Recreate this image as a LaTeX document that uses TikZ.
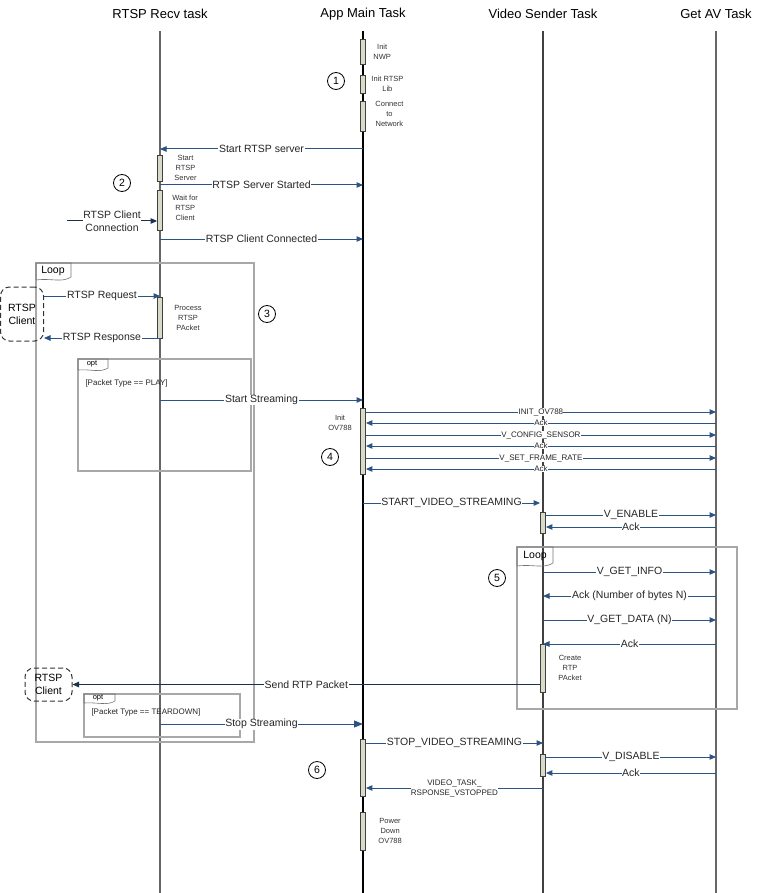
\documentclass[tikz,border=0pt]{standalone}
\usepackage{fontspec}
\setmainfont{Liberation Sans}
\usepackage{xcolor}
\usepackage{tikz}
\usetikzlibrary{positioning, arrows.meta, shapes}
\definecolor{msgblue}{HTML}{2B5383}
\definecolor{actfill}{HTML}{DADAC8}
\definecolor{framegray}{HTML}{A8A8A8}

\begin{document}
\begin{tikzpicture}[x=1pt, y=-1pt,
    title/.style={font=\fontsize{13}{15}\selectfont},
    lifeline/.style={line width=1.1pt},
    actbox/.style={draw=black!75, fill=actfill, line width=0.8pt, minimum width=5pt, inner sep=0pt},
    note/.style={font=\fontsize{7.5}{10}\selectfont, align=center, text=black!80},
    msg/.style={msgblue, line width=1pt, -{Triangle[length=6.5pt,width=5.5pt]}},
    lbl/.style={fill=white, inner sep=0.6pt, text=black!85, font=\fontsize{10.5}{12}\selectfont},
    slbl/.style={fill=white, inner sep=0.3pt, text=black!85, font=\fontsize{8}{9}\selectfont},
    stepnum/.style={circle, draw, line width=0.8pt, minimum size=17pt, inner sep=0pt, font=\fontsize{10.5}{12}\selectfont},
    frame/.style={draw=framegray, line width=1.2pt},
    tab/.style={draw=black!55, line width=0.6pt},
    client/.style={draw=black!80, dashed, dash pattern=on 5pt off 3pt, rounded corners=9pt, line width=1pt, align=center, inner sep=0pt, font=\fontsize{10.5}{13}\selectfont}
]
    \useasboundingbox (0,0) rectangle (757,893);

    % Tasks
    \node[title] (rtsp) at (160,14) {RTSP Recv task};
    \node[title] (app) at (363,14) {App Main Task};
    \node[title] (vid) at (543,14) {Video Sender Task};
    \node[title] (getav) at (716,14) {Get AV Task};

    % Lifelines
    \draw[lifeline, black!60] (rtsp |- 0,31) -- (rtsp |- 0,893);
    \draw[lifeline, black] (app |- 0,31) -- (app |- 0,893);
    \draw[lifeline, black!75] (vid |- 0,31) -- (vid |- 0,893);
    \draw[lifeline, black!60] (getav |- 0,31) -- (getav |- 0,893);

    % Frames
    \draw[frame] (36,263) rectangle (254,742);
    \draw[tab] (36,280) -- (36,263) -- (71,263) -- (71,277) .. controls (62,283) and (52,278) .. (36,280);
    \node[font=\fontsize{10.5}{12}\selectfont] (loopA) at (53,271) {Loop};
    \draw[frame] (78,359) rectangle (251,471);
    \draw[tab] (78,370) -- (78,359) -- (108,359) -- (108,368) .. controls (100,373) and (92,369) .. (78,370);
    \node[font=\fontsize{7.5}{8}\selectfont] (optA) at (92,364) {opt};
    \node[slbl, fill=none, anchor=west] (guardA) at (85,383) {[Packet Type == PLAY]};
    \draw[frame] (517,547) rectangle (737,709);
    \draw[tab] (517,566) -- (517,547) -- (553,547) -- (553,563) .. controls (544,569) and (534,564) .. (517,566);
    \node[font=\fontsize{10.5}{12}\selectfont] (loopB) at (535,556) {Loop};
    \draw[frame] (84,694) rectangle (240,737);
    \draw[tab] (84,703) -- (84,694) -- (115,694) -- (115,701) .. controls (107,706) and (98,702) .. (84,703);
    \node[font=\fontsize{7.5}{8}\selectfont] (optB) at (98,698) {opt};
    \node[slbl, fill=none, anchor=west] (guardB) at (91,712) {[Packet Type == TEARDOWN]};

    % Activations
    \node[actbox, minimum height=25pt] (nwp) at (363,52) {};
    \node[actbox, minimum height=18pt] (rtsplib) at (363,84) {};
    \node[actbox, minimum height=30pt] (connect) at (363,116) {};
    \node[actbox, minimum height=26pt] (startsrv) at (160,168) {};
    \node[actbox, minimum height=40pt] (waitcl) at (160,210) {};
    \node[actbox, minimum height=41pt] (procpkt) at (160,317.5) {};
    \node[actbox, minimum height=66pt] (initov) at (363,441) {};
    \node[actbox, minimum height=21pt] (vidon) at (543,522.5) {};
    \node[actbox, minimum height=48pt] (createpkt) at (543,668) {};
    \node[actbox, minimum height=57pt] (stopact) at (363,767.5) {};
    \node[actbox, minimum height=22pt] (vidoff) at (543,765) {};
    \node[actbox, minimum height=38pt] (powerdn) at (363,831) {};

    \node[note, right=4pt of nwp] {Init\\NWP};
    \node[note, right=2pt of rtsplib] {Init RTSP\\Lib};
    \node[note, right=6pt of connect, yshift=2pt] {Connect\\to\\Network};
    \node[note, right=8pt of startsrv] {Start\\RTSP\\Server};
    \node[note, right=6pt of waitcl, yshift=2pt] {Wait for\\RTSP\\Client};
    \node[note, right=8pt of procpkt] {Process\\RTSP\\PAcket};
    \node[note] at (340,423) {Init\\OV788};
    \node[note, right=9pt of createpkt] {Create\\RTP\\PAcket};
    \node[note, right=9pt of powerdn] {Power\\Down\\OV788};

    % Step numbers
    \node[stepnum] (s1) at (336,81) {1};
    \node[stepnum] (s2) at (122,183) {2};
    \node[stepnum] (s3) at (267,314) {3};
    \node[stepnum] (s4) at (330,457) {4};
    \node[stepnum] (s5) at (497,578) {5};
    \node[stepnum] (s6) at (317,770) {6};

    % RTSP clients
    \node[client, minimum width=43pt, minimum height=54pt] (client1) at (22,314) {RTSP\\Client};
    \node[client, minimum width=47pt, minimum height=33pt] (client2) at (48.5,684.5) {RTSP\\Client};

    % Server start
    \draw[msg] (app |- 0,149) -- (rtsp |- 0,149) node[lbl, midway] {Start RTSP server};
    \draw[msg] (rtsp |- 0,185) -- (app |- 0,185) node[lbl, midway] {RTSP Server Started};
    \coordinate (connsrc) at (67,221);
    \draw[msg, msgblue!60!black] (connsrc) -- (waitcl.west |- connsrc) node[lbl, midway, align=center, font=\fontsize{10.5}{13}\selectfont] {RTSP Client\\Connection};
    \draw[msg] (rtsp |- 0,239) -- (app |- 0,239) node[lbl, midway] {RTSP Client Connected};

    % Request handling
    \draw[msg] (client1.east |- 0,296) -- (rtsp |- 0,296) node[lbl, midway] {RTSP Request};
    \draw[msg] (rtsp |- 0,338) -- (client1.east |- 0,338) node[lbl, midway] {RTSP Response};
    \draw[msg] (rtsp |- 0,400) -- (app |- 0,400) node[lbl, midway] {Start Streaming};

    % Sensor setup
    \foreach \y/\txt in {412/INIT\_OV788, 435/V\_CONFIG\_SENSOR, 458/V\_SET\_FRAME\_RATE}
        \draw[msg] (initov.east |- 0,\y) -- (getav |- 0,\y) node[slbl, midway] {\txt};
    \foreach \y in {423,446,469}
        \draw[msg] (getav |- 0,\y) -- (initov.east |- 0,\y) node[slbl, midway] {Ack};

    % Video streaming
    \draw[msg] (app |- 0,503) -- (vidon.west |- 0,503) node[lbl, midway] {START\_VIDEO\_STREAMING};
    \draw[msg] (vidon.east |- 0,515) -- (getav |- 0,515) node[lbl, midway] {V\_ENABLE};
    \draw[msg] (getav |- 0,527) -- (vidon.east |- 0,527) node[lbl, midway] {Ack};
    \draw[msg] (vid |- 0,572) -- (getav |- 0,572) node[lbl, midway] {V\_GET\_INFO};
    \draw[msg] (getav |- 0,596) -- (vid |- 0,596) node[lbl, midway] {Ack (Number of bytes N)};
    \draw[msg] (vid |- 0,620) -- (getav |- 0,620) node[lbl, midway] {V\_GET\_DATA (N)};
    \draw[msg] (getav |- 0,644) -- (vid |- 0,644) node[lbl, midway] {Ack};
    \draw[msg, msgblue!60!black] (createpkt.west |- client2.east) -- (client2.east) node[lbl, midway] {Send RTP Packet};

    % Teardown
    \draw[msg, -{Triangle[length=9pt,width=7pt]}] (rtsp |- 0,724) -- (app |- 0,724) node[lbl, midway] {Stop Streaming};
    \draw[msg] (stopact.east |- 0,743) -- (vid |- 0,743) node[lbl, midway] {STOP\_VIDEO\_STREAMING};
    \draw[msg] (vidoff.east |- 0,757) -- (getav |- 0,757) node[lbl, midway] {V\_DISABLE};
    \draw[msg] (getav |- 0,773) -- (vidoff.east |- 0,773) node[lbl, midway] {Ack};
    \draw[msg] (vid |- 0,788) -- (stopact.east |- 0,788) node[slbl, midway, align=center, font=\fontsize{8}{10}\selectfont] {VIDEO\_TASK\_\\RSPONSE\_VSTOPPED};

\end{tikzpicture}
\end{document}
